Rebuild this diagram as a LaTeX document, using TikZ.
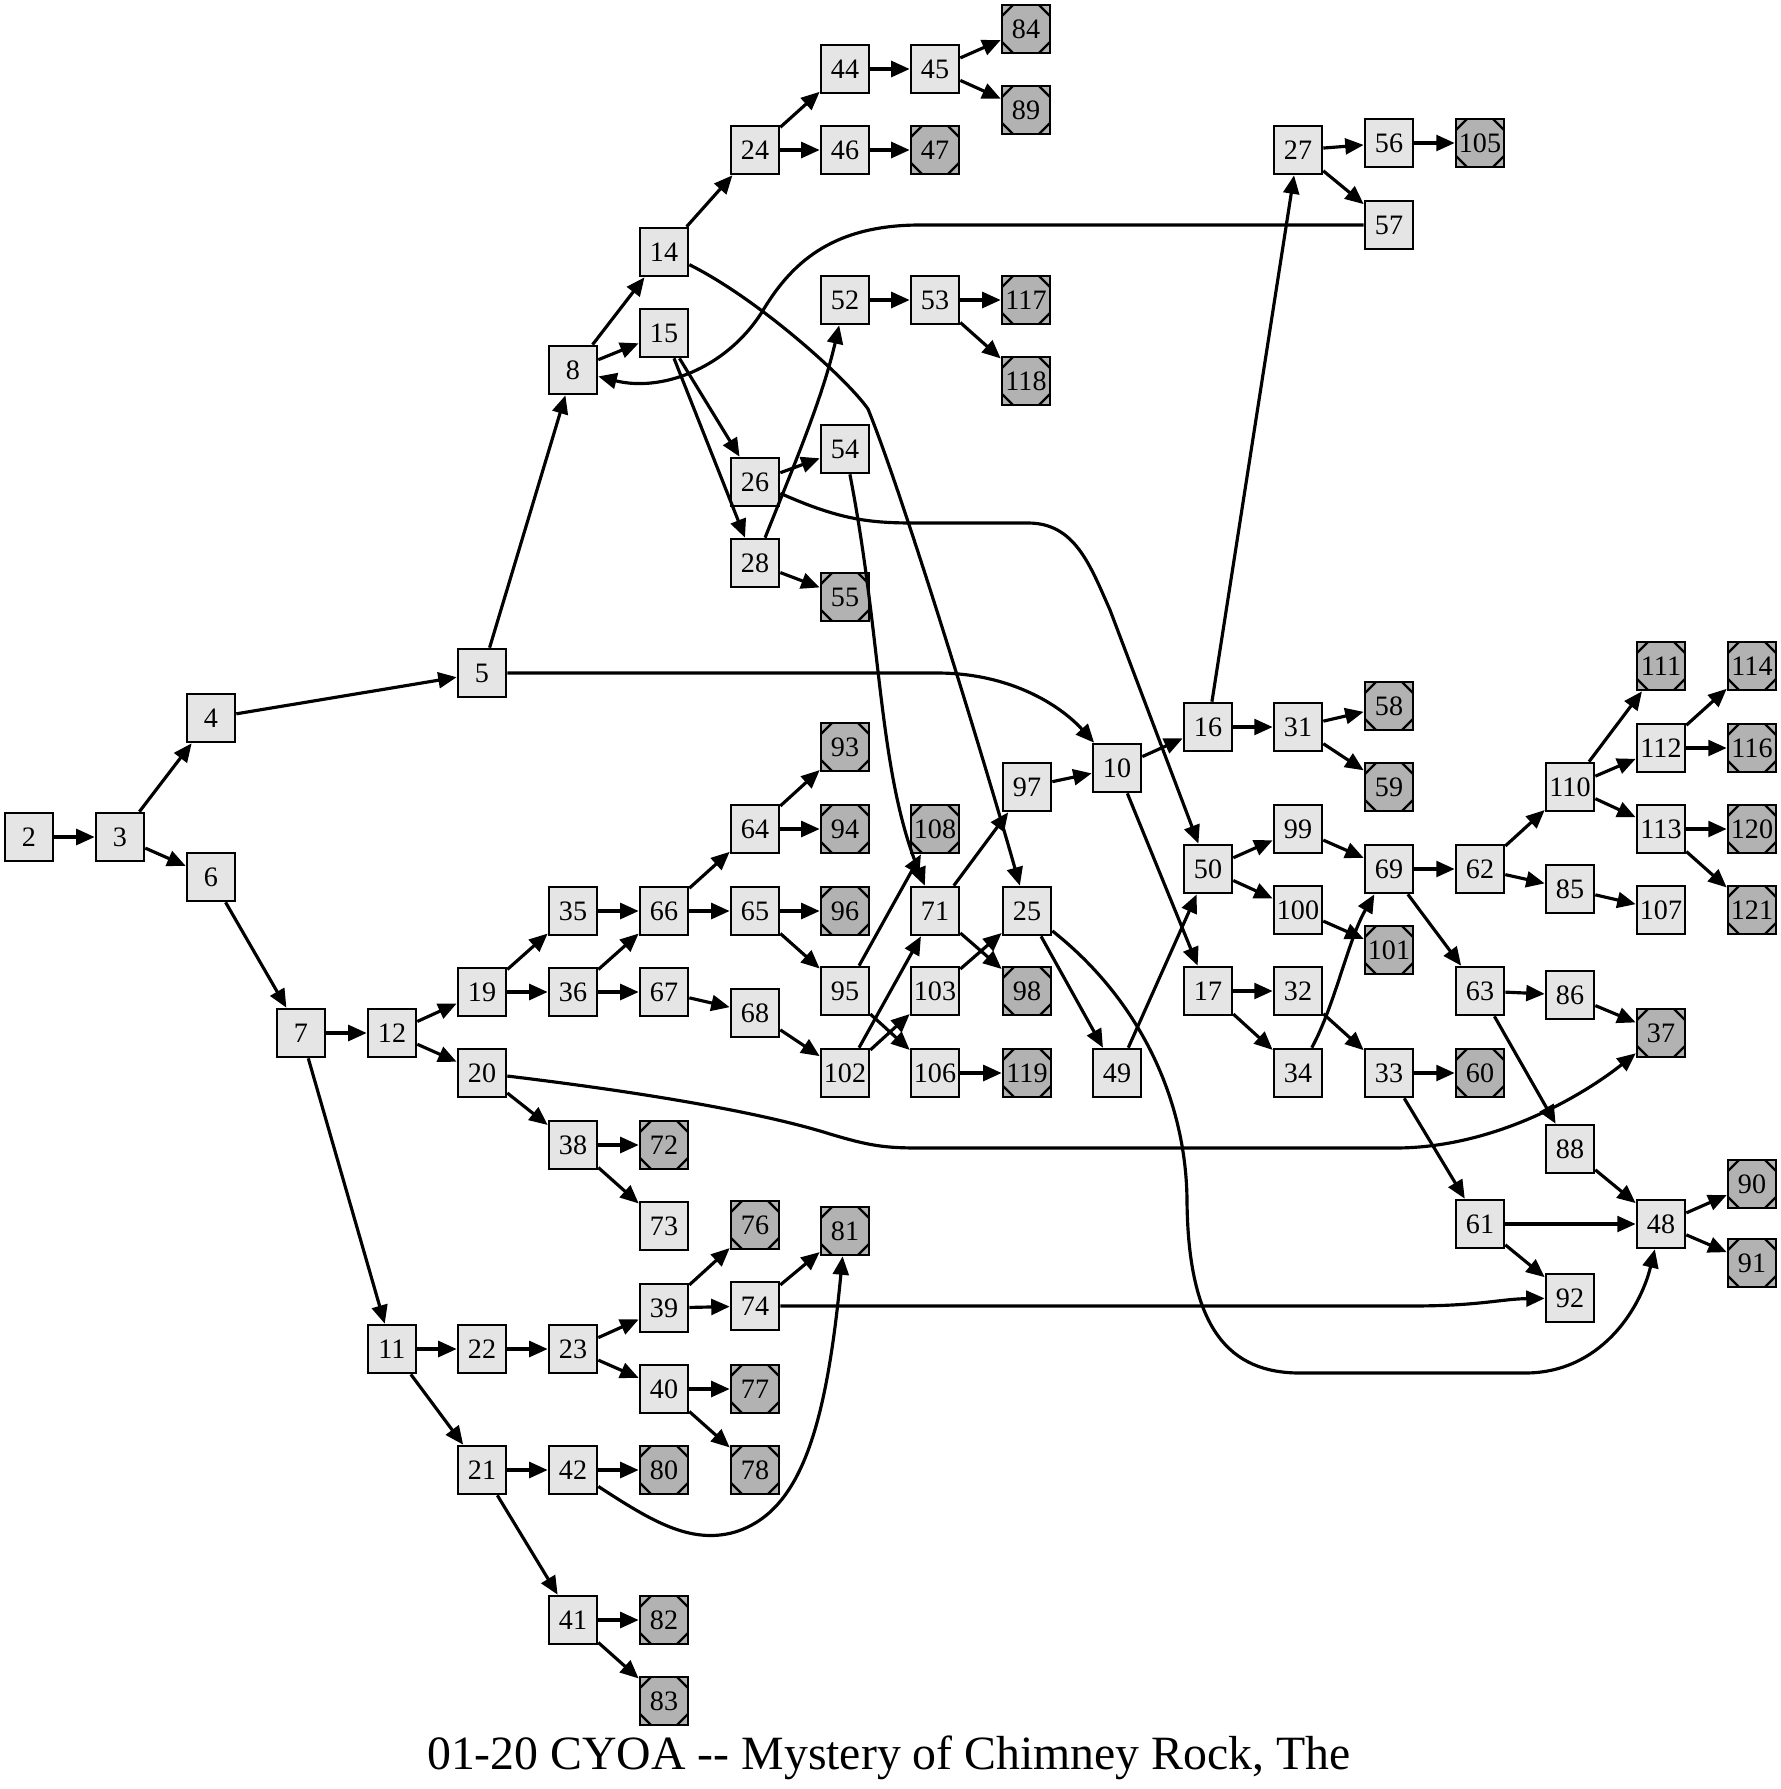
\documentclass[tikz,border=0pt]{standalone}
\usepackage{fontspec}
\setmainfont{Liberation Serif}
\usepackage{tikz}
\usetikzlibrary{arrows.meta,positioning,calc}
\newcommand{\cornercut}{0.22cm}

\begin{document}
\begin{tikzpicture}[
    x=0.02cm, y=-0.02cm,
    page/.style={rectangle, draw, line width=1.5pt, fill=black!10, minimum width=0.96cm, minimum height=0.96cm, inner sep=0pt, font=\fontsize{16}{18}\selectfont},
    ending/.style={page, fill=black!30, path picture={
        \draw[line width=1.3pt] ([yshift=-\cornercut]path picture bounding box.north west) -- ([xshift=\cornercut]path picture bounding box.north west);
        \draw[line width=1.3pt] ([yshift=-\cornercut]path picture bounding box.north east) -- ([xshift=-\cornercut]path picture bounding box.north east);
        \draw[line width=1.3pt] ([yshift=\cornercut]path picture bounding box.south west) -- ([xshift=\cornercut]path picture bounding box.south west);
        \draw[line width=1.3pt] ([yshift=\cornercut]path picture bounding box.south east) -- ([xshift=-\cornercut]path picture bounding box.south east);
    }},
    arrow/.style={-{Triangle[length=10.5pt, width=9pt]}, line width=1.8pt}
]
    \useasboundingbox (0,0) rectangle (1781,1789);

    % ============ Start ============
    \node[page] (p2) at (29,837) {2};
    \node[page] (p3) at (120,837) {3};
    \node[page] (p4) at (211,718) {4};
    \node[page] (p6) at (211,877) {6};
    \node[page] (p5) at (482,673) {5};
    \node[page] (p7) at (301,1033) {7};

    % ============ Upper branch ============
    \node[page] (p8) at (573,370) {8};
    \node[page] (p14) at (664,252) {14};
    \node[page] (p15) at (664,333) {15};
    \node[page] (p24) at (755,150) {24};
    \node[page] (p44) at (845,69) {44};
    \node[page] (p46) at (845,150) {46};
    \node[page] (p45) at (935,69) {45};
    \node[ending] (p84) at (1026,29) {84};
    \node[ending] (p89) at (1026,110) {89};
    \node[ending] (p47) at (935,150) {47};
    \node[page] (p52) at (845,300) {52};
    \node[page] (p53) at (935,300) {53};
    \node[ending] (p117) at (1026,300) {117};
    \node[ending] (p118) at (1026,381) {118};
    \node[page] (p54) at (845,449) {54};
    \node[page] (p26) at (755,482) {26};
    \node[page] (p28) at (755,563) {28};
    \node[ending] (p55) at (845,597) {55};
    \node[page] (p27) at (1298,150) {27};
    \node[page] (p56) at (1389,143) {56};
    \node[ending] (p105) at (1480,143) {105};
    \node[page] (p57) at (1389,225) {57};

    % ============ Middle ============
    \node[page] (p12) at (392,1033) {12};
    \node[page] (p19) at (482,992) {19};
    \node[page] (p20) at (482,1073) {20};
    \node[page] (p35) at (573,911) {35};
    \node[page] (p36) at (573,992) {36};
    \node[page] (p38) at (573,1145) {38};
    \node[ending] (p72) at (664,1145) {72};
    \node[page] (p73) at (664,1226) {73};
    \node[page] (p66) at (664,911) {66};
    \node[page] (p67) at (664,992) {67};
    \node[page] (p64) at (755,829) {64};
    \node[page] (p65) at (755,911) {65};
    \node[page] (p68) at (755,1013) {68};
    \node[ending] (p93) at (845,747) {93};
    \node[ending] (p94) at (845,829) {94};
    \node[ending] (p96) at (845,911) {96};
    \node[page] (p95) at (845,991) {95};
    \node[page] (p102) at (845,1073) {102};
    \node[ending] (p108) at (935,829) {108};
    \node[page] (p71) at (935,911) {71};
    \node[page] (p103) at (935,991) {103};
    \node[page] (p106) at (935,1073) {106};
    \node[page] (p97) at (1027,787) {97};
    \node[page] (p25) at (1027,911) {25};
    \node[ending] (p98) at (1027,991) {98};
    \node[ending] (p119) at (1027,1073) {119};
    \node[page] (p10) at (1117,768) {10};
    \node[page] (p49) at (1117,1073) {49};

    % ============ Right part ============
    \node[page] (p16) at (1208,727) {16};
    \node[page] (p50) at (1208,869) {50};
    \node[page] (p17) at (1208,991) {17};
    \node[page] (p31) at (1298,727) {31};
    \node[page] (p99) at (1298,829) {99};
    \node[page] (p100) at (1298,910) {100};
    \node[page] (p32) at (1298,991) {32};
    \node[page] (p34) at (1298,1073) {34};
    \node[ending] (p58) at (1389,706) {58};
    \node[ending] (p59) at (1389,787) {59};
    \node[page] (p69) at (1389,869) {69};
    \node[ending] (p101) at (1389,950) {101};
    \node[page] (p33) at (1389,1073) {33};
    \node[page] (p62) at (1480,869) {62};
    \node[page] (p63) at (1480,991) {63};
    \node[ending] (p60) at (1480,1073) {60};
    \node[page] (p61) at (1480,1224) {61};
    \node[page] (p110) at (1570,787) {110};
    \node[page] (p85) at (1570,889) {85};
    \node[page] (p86) at (1570,995) {86};
    \node[page] (p88) at (1570,1149) {88};
    \node[page] (p92) at (1570,1298) {92};
    \node[ending] (p111) at (1661,666) {111};
    \node[page] (p112) at (1661,748) {112};
    \node[page] (p113) at (1661,829) {113};
    \node[page] (p107) at (1661,910) {107};
    \node[ending] (p37) at (1661,1033) {37};
    \node[page] (p48) at (1661,1224) {48};
    \node[ending] (p114) at (1752,666) {114};
    \node[ending] (p116) at (1752,748) {116};
    \node[ending] (p120) at (1752,829) {120};
    \node[ending] (p121) at (1752,910) {121};
    \node[ending] (p90) at (1752,1184) {90};
    \node[ending] (p91) at (1752,1263) {91};

    % ============ Lower branch ============
    \node[page] (p11) at (392,1349) {11};
    \node[page] (p22) at (482,1349) {22};
    \node[page] (p23) at (573,1349) {23};
    \node[page] (p21) at (482,1470) {21};
    \node[page] (p42) at (573,1470) {42};
    \node[page] (p41) at (573,1620) {41};
    \node[page] (p39) at (664,1308) {39};
    \node[page] (p40) at (664,1389) {40};
    \node[ending] (p80) at (664,1470) {80};
    \node[ending] (p82) at (664,1620) {82};
    \node[ending] (p83) at (664,1701) {83};
    \node[ending] (p76) at (755,1225) {76};
    \node[page] (p74) at (755,1306) {74};
    \node[ending] (p77) at (755,1389) {77};
    \node[ending] (p78) at (755,1470) {78};
    \node[ending] (p81) at (845,1231) {81};

    % ============ Title ============
    \node[font=\fontsize{27.2}{31}\selectfont, anchor=base] (title) at (889,1769) {01-20 CYOA \mbox{-}\mbox{-} Mystery of Chimney Rock, The};

    % ============ Connections ============
    % start
    \draw[arrow] (p2) -- (p3);
    \draw[arrow] (p3) -- (p4);
    \draw[arrow] (p3) -- (p6);
    \draw[arrow] (p4) -- (p5);
    \draw[arrow] (p6) -- (p7);
    \draw[arrow] (p5) -- (p8);
    \draw[arrow] (p5) -- (937,673) .. controls (1010,673) and (1060,705) .. (p10);
    \draw[arrow] (p7) -- (p12);
    \draw[arrow] (p7) -- (p11);

    % upper branch
    \draw[arrow] (p8) -- (p14);
    \draw[arrow] (p8) -- (p15);
    \draw[arrow] (p14) -- (p24);
    \draw[arrow] (p14) .. controls (760,300) and (848,380) .. (868,409) .. controls (905,500) and (990,780) .. (p25);
    \draw[arrow] (p15) -- (p26);
    \draw[arrow] (p15) -- (p28);
    \draw[arrow] (p24) -- (p44);
    \draw[arrow] (p24) -- (p46);
    \draw[arrow] (p44) -- (p45);
    \draw[arrow] (p45) -- (p84);
    \draw[arrow] (p45) -- (p89);
    \draw[arrow] (p46) -- (p47);
    \draw[arrow] (p26) -- (p54);
    \draw[arrow] (p26) .. controls (840,520) and (870,523) .. (915,523) -- (1028,523) .. controls (1075,523) and (1090,565) .. (1110,610) -- (p50);
    \draw[arrow] (p28) .. controls (792,470) and (822,400) .. (p52);
    \draw[arrow] (p28) -- (p55);
    \draw[arrow] (p52) -- (p53);
    \draw[arrow] (p53) -- (p117);
    \draw[arrow] (p53) -- (p118);
    \draw[arrow] (p54) .. controls (882,640) and (878,770) .. (p71);
    \draw[arrow] (p27) -- (p56);
    \draw[arrow] (p27) -- (p57);
    \draw[arrow] (p56) -- (p105);
    \draw[arrow] (p57) -- (920,225) .. controls (830,225) and (790,265) .. (762,312) .. controls (725,370) and (660,392) .. (p8);

    % middle
    \draw[arrow] (p12) -- (p19);
    \draw[arrow] (p12) -- (p20);
    \draw[arrow] (p19) -- (p35);
    \draw[arrow] (p19) -- (p36);
    \draw[arrow] (p20) -- (p38);
    \draw[arrow] (p20) .. controls (640,1092) and (760,1112) .. (830,1134) .. controls (870,1146) and (885,1148) .. (920,1148) -- (1395,1148) .. controls (1500,1148) and (1590,1090) .. (p37);
    \draw[arrow] (p38) -- (p72);
    \draw[arrow] (p38) -- (p73);
    \draw[arrow] (p35) -- (p66);
    \draw[arrow] (p36) -- (p66);
    \draw[arrow] (p36) -- (p67);
    \draw[arrow] (p66) -- (p64);
    \draw[arrow] (p66) -- (p65);
    \draw[arrow] (p64) -- (p93);
    \draw[arrow] (p64) -- (p94);
    \draw[arrow] (p65) -- (p96);
    \draw[arrow] (p65) -- (p95);
    \draw[arrow] (p95) -- (p108);
    \draw[arrow] (p95) -- (p106);
    \draw[arrow] (p67) -- (p68);
    \draw[arrow] (p68) -- (p102);
    \draw[arrow] (p102) -- (p71);
    \draw[arrow] (p102) -- (p103);
    \draw[arrow] (p71) -- (p97);
    \draw[arrow] (p71) -- (p98);
    \draw[arrow] (p103) -- (p25);
    \draw[arrow] (p106) -- (p119);
    \draw[arrow] (p97) -- (p10);
    \draw[arrow] (p25) -- (p49);
    \draw[arrow] (p25) .. controls (1140,1000) and (1186,1100) .. (1187,1200) .. controls (1188,1330) and (1230,1373) .. (1300,1373) -- (1525,1373) .. controls (1600,1373) and (1640,1310) .. (p48);
    \draw[arrow] (p49) -- (p50);

    % right part
    \draw[arrow] (p10) -- (p16);
    \draw[arrow] (p10) -- (p17);
    \draw[arrow] (p16) -- (p27);
    \draw[arrow] (p16) -- (p31);
    \draw[arrow] (p31) -- (p58);
    \draw[arrow] (p31) -- (p59);
    \draw[arrow] (p50) -- (p99);
    \draw[arrow] (p50) -- (p100);
    \draw[arrow] (p99) -- (p69);
    \draw[arrow] (p100) -- (p101);
    \draw[arrow] (p17) -- (p32);
    \draw[arrow] (p17) -- (p34);
    \draw[arrow] (p32) -- (p33);
    \draw[arrow] (p34) .. controls (1335,1005) and (1348,940) .. (p69);
    \draw[arrow] (p33) -- (p60);
    \draw[arrow] (p33) -- (p61);
    \draw[arrow] (p69) -- (p62);
    \draw[arrow] (p69) -- (p63);
    \draw[arrow] (p62) -- (p110);
    \draw[arrow] (p62) -- (p85);
    \draw[arrow] (p110) -- (p111);
    \draw[arrow] (p110) -- (p112);
    \draw[arrow] (p110) -- (p113);
    \draw[arrow] (p112) -- (p114);
    \draw[arrow] (p112) -- (p116);
    \draw[arrow] (p113) -- (p120);
    \draw[arrow] (p113) -- (p121);
    \draw[arrow] (p85) -- (p107);
    \draw[arrow] (p63) -- (p86);
    \draw[arrow] (p63) -- (p88);
    \draw[arrow] (p86) -- (p37);
    \draw[arrow] (p88) -- (p48);
    \draw[arrow] (p61) -- (p48);
    \draw[arrow] (p61) -- (p92);
    \draw[arrow] (p48) -- (p90);
    \draw[arrow] (p48) -- (p91);

    % lower branch
    \draw[arrow] (p11) -- (p22);
    \draw[arrow] (p11) -- (p21);
    \draw[arrow] (p22) -- (p23);
    \draw[arrow] (p23) -- (p39);
    \draw[arrow] (p23) -- (p40);
    \draw[arrow] (p39) -- (p76);
    \draw[arrow] (p39) -- (p74);
    \draw[arrow] (p74) -- (p81);
    \draw[arrow] (p74) -- (1410,1306) .. controls (1480,1306) and (1500,1299) .. (p92);
    \draw[arrow] (p40) -- (p77);
    \draw[arrow] (p40) -- (p78);
    \draw[arrow] (p21) -- (p42);
    \draw[arrow] (p21) -- (p41);
    \draw[arrow] (p42) -- (p80);
    \draw[arrow] (p42) .. controls (650,1520) and (690,1545) .. (735,1532) .. controls (800,1512) and (826,1430) .. (p81);
    \draw[arrow] (p41) -- (p82);
    \draw[arrow] (p41) -- (p83);

\end{tikzpicture}
\end{document}
